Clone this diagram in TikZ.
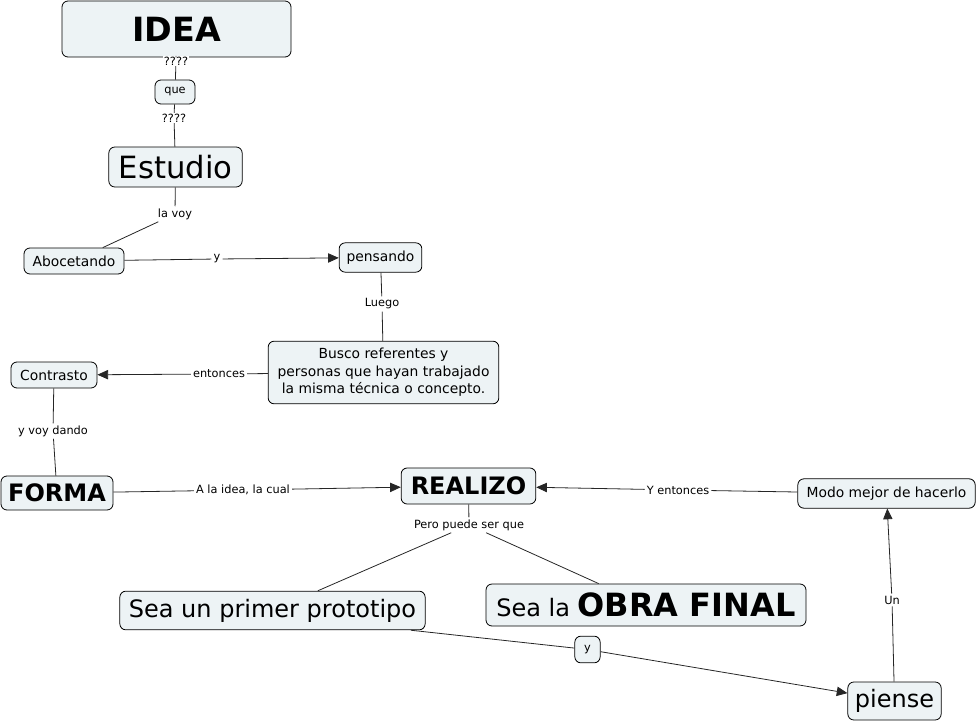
\documentclass[tikz,border=0pt]{standalone}
\usepackage{fontspec}
\setmainfont{DejaVu Sans}
\usepackage{xcolor}
\usetikzlibrary{arrows.meta}

\definecolor{cmapfill}{HTML}{EDF3F5}

\begin{document}
\begin{tikzpicture}[
    x=0.75pt, y=-0.75pt,
    concept/.style={draw, rounded corners=4.5pt, fill=cmapfill,
                    line width=0.6pt, inner sep=0pt, align=center,
                    font=\fontsize{10.4}{13}\selectfont},
    linkbox/.style={concept, font=\fontsize{8.5}{10}\selectfont},
    linklabel/.style={fill=white, inner sep=1.5pt,
                      font=\fontsize{8.5}{10}\selectfont},
    conn/.style={line width=0.6pt, draw=black!85},
    arrow/.style={conn, -{Triangle[length=8pt, width=7pt]}},
]
    \useasboundingbox (0,0) rectangle (978,724);

    % concepts
    \node[concept, minimum width=171.75pt, minimum height=42pt,
          font=\fontsize{25}{28}\selectfont\bfseries] (idea) at (176.5,29) {IDEA};
    \node[linkbox, minimum width=30pt, minimum height=18pt] (que) at (175,92) {que};
    \node[concept, minimum width=100pt, minimum height=30pt,
          font=\fontsize{23}{26}\selectfont] (estudio) at (175.5,167) {Estudio};
    \node[concept, minimum width=75pt, minimum height=19.5pt] (aboc) at (74,261) {Abocetando};
    \node[concept, minimum width=62pt, minimum height=22pt] (pensando) at (380.5,257.5) {pensando};
    \node[concept, minimum width=173pt, minimum height=47pt] (busco) at (383.5,372.5)
        {Busco referentes y\\personas que hayan trabajado\\la misma técnica o concepto.};
    \node[concept, minimum width=64.5pt, minimum height=19.5pt] (contrasto) at (54,375) {Contrasto};
    \node[concept, minimum width=84pt, minimum height=25.5pt,
          font=\fontsize{18}{20}\selectfont\bfseries] (forma) at (57,493) {FORMA};
    \node[concept, minimum width=101pt, minimum height=27pt,
          font=\fontsize{18}{20}\selectfont\bfseries] (realizo) at (468.5,486) {REALIZO};
    \node[concept, minimum width=133pt, minimum height=22pt] (modo) at (886.5,493.5) {Modo mejor de hacerlo};
    \node[concept, minimum width=229pt, minimum height=29pt,
          font=\fontsize{18}{20}\selectfont] (proto) at (272.5,610.5) {Sea un primer prototipo};
    \node[concept, minimum width=240pt, minimum height=31.5pt,
          font=\fontsize{18}{20}\selectfont] (obra) at (646,605)
        {Sea la {\fontsize{24}{26}\selectfont\bfseries OBRA FINAL}};
    \node[linkbox, minimum width=19pt, minimum height=20pt] (ylow) at (587.5,649.5) {y};
    \node[concept, minimum width=70pt, minimum height=28.5pt,
          font=\fontsize{18}{20}\selectfont] (piense) at (894.5,701) {piense};

    % linking phrases
    \node[linklabel, inner sep=0.5pt] (qa) at (176,61) {????};
    \node[linklabel, inner sep=0.5pt] (qb) at (174,118) {????};
    \node[linklabel] (lavoy) at (175,214) {la voy};
    \node[linklabel] (yaboc) at (217,259) {y};
    \node[linklabel] (luego) at (382,304) {Luego};
    \node[linklabel] (entonces) at (219,374) {entonces};
    \node[linklabel] (yvoy) at (53,431) {y voy dando};
    \node[linklabel] (alaidea) at (243,490) {A la idea, la cual};
    \node[linklabel] (yent) at (678,490) {Y entonces};
    \node[linklabel] (pero) at (469,525) {Pero puede ser que};
    \node[linklabel] (un) at (892,600) {Un};

    % connectors
    \draw[conn] (idea) -- (qa) -- (que) -- (qb) -- (estudio);
    \draw[conn] (estudio) -- (lavoy) -- (aboc);
    \draw[conn] (aboc) -- (yaboc);
    \draw[arrow] (yaboc) -- (pensando);
    \draw[conn] (pensando) -- (luego) -- (busco);
    \draw[conn] (busco) -- (entonces);
    \draw[arrow] (entonces) -- (contrasto);
    \draw[conn] (contrasto) -- (yvoy) -- (forma);
    \draw[conn] (forma) -- (alaidea);
    \draw[arrow] (alaidea) -- (realizo);
    \draw[conn] (modo) -- (yent);
    \draw[arrow] (yent) -- (realizo);
    \draw[conn] (realizo) -- (pero);
    \draw[conn] (pero) -- (proto);
    \draw[conn] (pero) -- (obra);
    \draw[conn] ([xshift=-11pt]proto.south east) -- (ylow);
    \draw[arrow] (ylow) -- (piense);
    \draw[conn] (piense) -- (un);
    \draw[arrow] (un) -- (modo);
\end{tikzpicture}
\end{document}
